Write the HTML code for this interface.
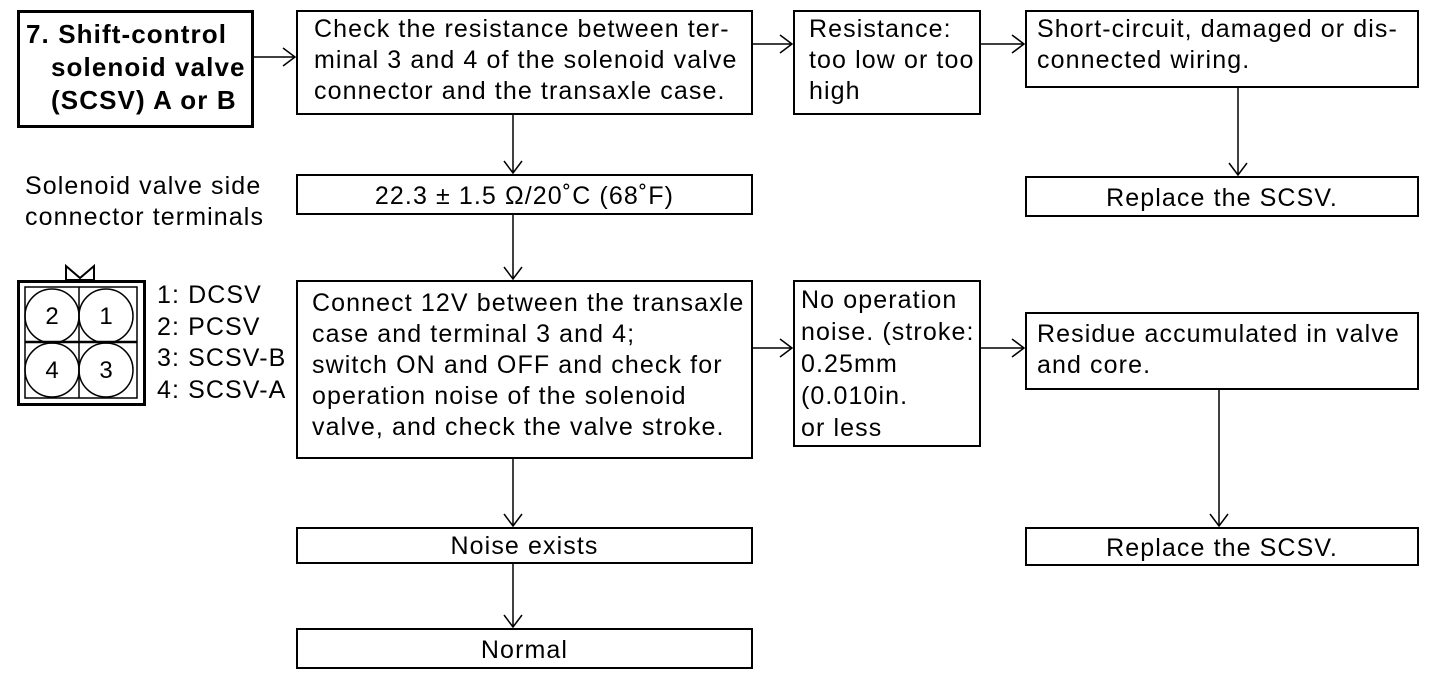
<!DOCTYPE html>
<html><head><style>
body{margin:0;width:1440px;height:676px;background:#fff;position:relative;overflow:hidden;font-family:"Liberation Sans",Arial,sans-serif;color:#000}
.b{position:absolute;border:2px solid #000;box-sizing:border-box;font-size:25px;letter-spacing:1.1px;line-height:31px;padding:2px 0 0 16px;white-space:nowrap}
.c{text-align:center;padding:0}
.t{position:absolute;font-size:25px;letter-spacing:1.1px;line-height:31px;white-space:nowrap}
svg{position:absolute;left:0;top:0}
</style></head><body>
<div class="b" style="left:17px;top:10px;width:237px;height:118px;border-width:3px;font-weight:bold;font-size:26px;letter-spacing:1.1px;line-height:33px;padding:5px 0 0 6px">7. Shift-control<br><span style="padding-left:25px">solenoid valve</span><br><span style="padding-left:25px">(SCSV) A or B</span></div>
<div class="b" style="left:296px;top:10px;width:457px;height:105px">Check the resistance between ter-<br>minal 3 and 4 of the solenoid valve<br>connector and the transaxle case.</div>
<div class="b" style="left:793px;top:10px;width:188px;height:105px;padding-left:14px">Resistance:<br>too low or too<br>high</div>
<div class="b" style="left:1025px;top:10px;width:394px;height:78px;padding-left:10px">Short-circuit, damaged or dis-<br>connected wiring.</div>
<div class="b c" style="left:296px;top:174px;width:457px;height:41px;line-height:40px">22.3 ± 1.5 Ω/20˚C (68˚F)</div>
<div class="b c" style="left:1025px;top:176px;width:394px;height:41px;line-height:40px">Replace the SCSV.</div>
<div class="t" style="left:25px;top:171px">Solenoid valve side<br>connector terminals</div>
<div class="b" style="left:296px;top:280px;width:457px;height:179px;padding-top:6px;padding-left:14px">Connect 12V between the transaxle<br>case and terminal 3 and 4;<br>switch ON and OFF and check for<br>operation noise of the solenoid<br>valve, and check the valve stroke.</div>
<div class="b" style="left:793px;top:280px;width:188px;height:167px;padding-left:6px;line-height:32px">No operation<br>noise. (stroke:<br>0.25mm<br>(0.010in.<br>or less</div>
<div class="b" style="left:1025px;top:312px;width:394px;height:78px;padding-left:10px;padding-top:5px">Residue accumulated in valve<br>and core.</div>
<div class="b c" style="left:296px;top:527px;width:457px;height:37px;line-height:35px">Noise exists</div>
<div class="b c" style="left:1025px;top:527px;width:394px;height:39px;line-height:38px">Replace the SCSV.</div>
<div class="b c" style="left:296px;top:628px;width:457px;height:41px;line-height:40px">Normal</div>
<div class="t" style="left:157px;top:280px;line-height:31.5px">1: DCSV<br>2: PCSV<br>3: SCSV-B<br>4: SCSV-A</div>
<svg width="1440" height="676" fill="none" stroke="#000" stroke-width="1.5">
<g>
<path d="M254 57H295M283 48L295 57L283 66"/>
<path d="M753 44H792M780 35L792 44L780 53"/>
<path d="M981 44H1024M1012 35L1024 44L1012 53"/>
<path d="M513 115V173M504 161L513 173L522 161"/>
<path d="M1238 88V175M1229 163L1238 175L1247 163"/>
<path d="M513 215V279M504 267L513 279L522 267"/>
<path d="M753 348H792M780 339L792 348L780 357"/>
<path d="M981 348H1024M1012 339L1024 348L1012 357"/>
<path d="M1219 390V526M1210 514L1219 526L1228 514"/>
<path d="M513 459V526M504 514L513 526L522 514"/>
<path d="M513 564V627M504 615L513 627L522 615"/>
</g>
<rect x="18.5" y="281.5" width="126" height="123" stroke-width="3"/>
<rect x="25" y="287" width="112" height="111"/>
<line x1="79" y1="287" x2="79" y2="398"/>
<line x1="25" y1="342" x2="137" y2="342" stroke-width="2.5"/>
<circle cx="52" cy="316" r="27"/><circle cx="106" cy="316" r="27"/>
<circle cx="52" cy="370" r="27"/><circle cx="106" cy="370" r="27"/>
<path d="M66 266L80 278L94 266V280H66Z" stroke-width="2"/>
<g fill="#000" stroke="none" font-family="Liberation Sans" font-size="24" text-anchor="middle">
<text x="52" y="324">2</text><text x="106" y="324">1</text>
<text x="52" y="378">4</text><text x="106" y="378">3</text>
</g>
</svg>
</body></html>
